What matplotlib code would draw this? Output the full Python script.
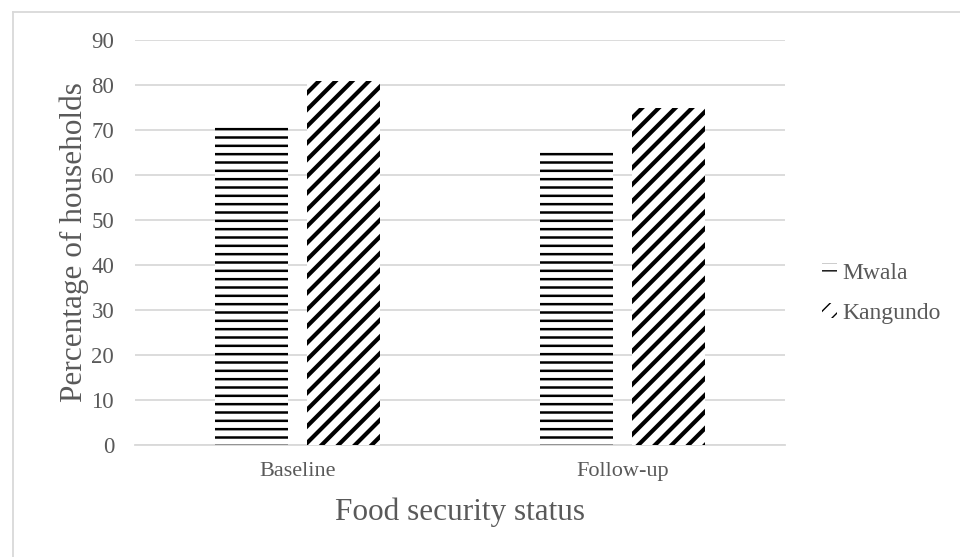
import matplotlib
matplotlib.use('Agg')
import matplotlib.pyplot as plt
from matplotlib.lines import Line2D
import numpy as np

# data
categories = ['Baseline', 'Follow-up']
mwala = [71, 66]
kangundo = [81, 75]
y_ticks = list(range(0, 100, 10))

plt.rcParams['font.family'] = ['Liberation Serif', 'DejaVu Serif']
TXT = '#595959'
GRID = '#d9d9d9'

fig = plt.figure(figsize=(9.6, 5.57), dpi=100)
ax = fig.add_axes([135 / 960, 1 - 445 / 557, 650 / 960, 405 / 557])

x = np.arange(len(categories))
w = 0.225
off = 0.142

with plt.rc_context({'hatch.linewidth': 1.8}):
    b1 = ax.bar(x - off, mwala, w, facecolor='white', edgecolor='black',
                linewidth=0, hatch='--', label='Mwala', zorder=3)
with plt.rc_context({'hatch.linewidth': 3.0}):
    b2 = ax.bar(x + off, kangundo, w, facecolor='white', edgecolor='black',
                linewidth=0, hatch='//', label='Kangundo', zorder=3)

ax.set_xlim(-0.5, 1.5)
ax.set_ylim(0, 90)
ax.set_yticks(y_ticks)
ax.set_xticks(x)
ax.set_xticklabels(categories)
ax.yaxis.grid(True, color=GRID, linewidth=1.3)
ax.set_axisbelow(True)
for s in ['top', 'right', 'left']:
    ax.spines[s].set_visible(False)
ax.spines['bottom'].set_color(GRID)
ax.spines['bottom'].set_linewidth(1.3)
ax.tick_params(axis='both', length=0, colors=TXT)
ax.tick_params(axis='y', labelsize=16.5, pad=15)
ax.tick_params(axis='x', labelsize=16, pad=12)

ax.set_ylabel('Percentage of households', fontsize=22.5, color=TXT, labelpad=2)
ax.set_xlabel('Food security status', fontsize=22.5, color=TXT, labelpad=12)

leg = ax.legend(handles=[b1, b2], loc='center left', bbox_to_anchor=(1.025, 0.375),
                frameon=False, fontsize=17, labelcolor=TXT,
                handlelength=0.6, handleheight=0.6, handletextpad=0.25,
                labelspacing=0.8)

# outer chart border
fig.add_artist(Line2D([12.5 / 960, 1], [1 - 11.5 / 557] * 2, color=GRID, lw=1.3))
fig.add_artist(Line2D([12.5 / 960] * 2, [0, 1 - 11.5 / 557], color=GRID, lw=1.3))

fig.savefig('out.png', dpi=100, facecolor='white')
